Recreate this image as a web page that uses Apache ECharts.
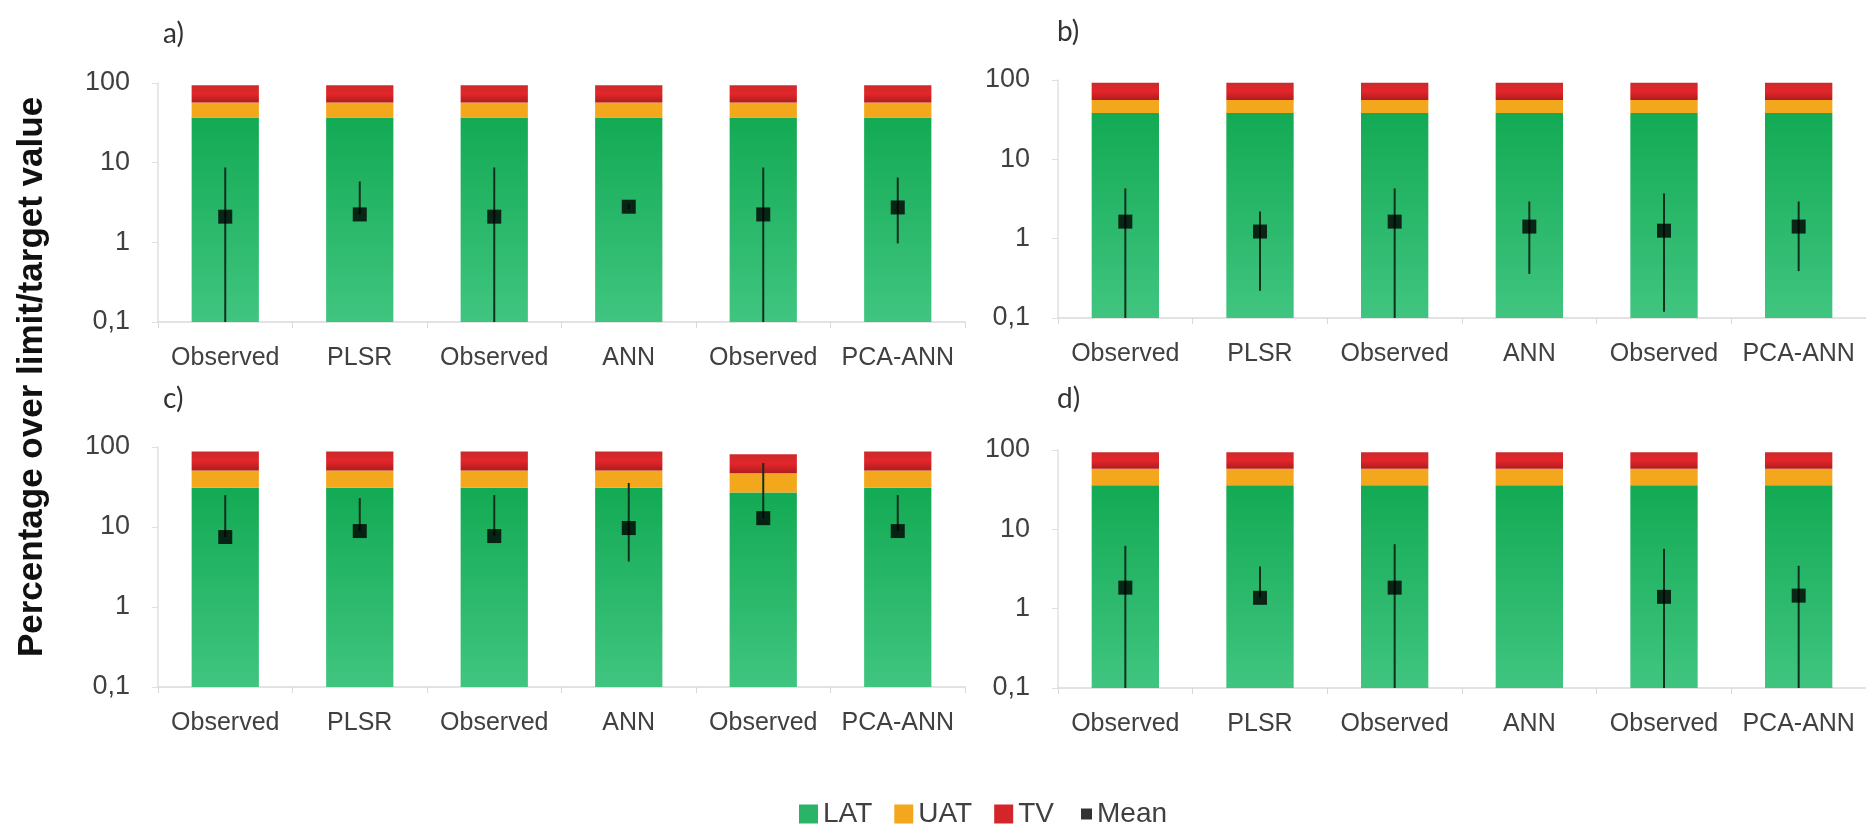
<!DOCTYPE html>
<html>
<head>
<meta charset="utf-8">
<script src="https://cdn.jsdelivr.net/npm/echarts@6/dist/echarts.min.js"></script>
<style>
  html, body { margin: 0; padding: 0; background: #ffffff; }
  #chart { width: 1866px; height: 830px; }
</style>
</head>
<body>
<div id="chart"></div>
<script>
// ---- data ----
const categories = ['Observed', 'PLSR', 'Observed', 'ANN', 'Observed', 'PCA-ANN'];
const panelLabels = ['a)', 'b)', 'c)', 'd)'];
const yAxisTitle = 'Percentage over limit/target value';
const legendNames = ['LAT', 'UAT', 'TV', 'Mean'];

// cumulative tops of the threshold bands (log axis, % of limit)
const latA = [37, 37, 37, 37, 37, 37];
const uatA = [57, 57, 57, 57, 57, 57];
const tvA  = [94, 94, 94, 94, 94, 94];
const meanA = [2.1, 2.24, 2.1, 2.8, 2.24, 2.74];
const lowA  = [0.1, 2.24, 0.1, 2.6, 0.1, 0.97];
const highA = [8.7, 5.8, 8.7, 3.0, 8.7, 6.5];

const latB = [38.5, 38.5, 38.5, 38.5, 38.5, 38.5];
const uatB = [56, 56, 56, 56, 56, 56];
const tvB  = [92, 92, 92, 92, 92, 92];
const meanB = [1.64, 1.23, 1.64, 1.42, 1.26, 1.42];
const lowB  = [0.1, 0.22, 0.1, 0.36, 0.12, 0.39];
const highB = [4.3, 2.2, 4.3, 2.94, 3.7, 2.94];

const latC = [31, 31, 31, 31, 27, 31];
const uatC = [51, 51, 51, 51, 47, 51];
const tvC  = [88, 88, 88, 88, 81, 88];
const meanC = [7.5, 8.9, 7.7, 9.7, 12.9, 8.9];
const lowC  = [7.5, 8.9, 7.7, 3.7, 12.9, 8.9];
const highC = [25, 23, 25, 35.5, 63, 25];

const latD = [36, 36, 36, 36, 36, 36];
const uatD = [58, 58, 58, 58, 58, 58];
const tvD  = [94, 94, 94, 94, 94, 94];
const meanD = [1.84, 1.37, 1.84, null, 1.41, 1.46];
const lowD  = [0.1, 1.37, 0.1, null, 0.1, 0.1];
const highD = [6.2, 3.4, 6.5, null, 5.7, 3.47];

const yMin = 0.1, yMax = 100;

const panels = [
  {lat: latA, uat: uatA, tv: tvA, mean: meanA, low: lowA, high: highA},
  {lat: latB, uat: uatB, tv: tvB, mean: meanB, low: lowB, high: highB},
  {lat: latC, uat: uatC, tv: tvC, mean: meanC, low: lowC, high: highC},
  {lat: latD, uat: uatD, tv: tvD, mean: meanD, low: lowD, high: highD}
];

// ---- layout ----
const grids = [
  {left: 158, top: 83, width: 807, height: 239},
  {left: 1058, top: 80, width: 808, height: 238},
  {left: 158, top: 447, width: 807, height: 240},
  {left: 1058, top: 450, width: 808, height: 238}
];
const labelPos = [[163, 36], [1057, 34], [163, 401], [1057, 401]];

const colLAT = new echarts.graphic.LinearGradient(0, 0, 0, 1, [
  {offset: 0, color: '#13aa54'}, {offset: 1, color: '#40c580'}
]);
const colUAT = '#f3a71d';
const colTV = new echarts.graphic.LinearGradient(0, 0, 0, 1, [
  {offset: 0, color: '#cc2a2b'}, {offset: 0.5, color: '#e3262a'}, {offset: 1, color: '#b01c1e'}
]);

function bandRender(params, api) {
  const x = api.value(0), lo = api.value(1), hi = api.value(2);
  const pTop = api.coord([x, hi]);
  const pBot = api.coord([x, lo]);
  const w = api.size([1, 0])[0] * 0.5;
  return {
    type: 'rect',
    shape: {x: pTop[0] - w / 2, y: pTop[1], width: w, height: pBot[1] - pTop[1]},
    style: api.style()
  };
}
function errRender(params, api) {
  const x = api.value(0), lo = api.value(1), hi = api.value(2);
  const p1 = api.coord([x, hi]);
  const p0 = api.coord([x, lo]);
  return {
    type: 'line',
    shape: {x1: p1[0], y1: p1[1], x2: p0[0], y2: p0[1]},
    style: {stroke: '#10301c', lineWidth: 2}
  };
}

const xAxes = [], yAxes = [], series = [];
panels.forEach((p, k) => {
  xAxes.push({
    type: 'category', gridIndex: k, data: categories,
    axisLine: {lineStyle: {color: '#d9d9d9', width: 1.5}},
    axisTick: {show: true, length: 6, lineStyle: {color: '#d9d9d9'}},
    axisLabel: {interval: 0, fontSize: 25, color: '#404040', margin: 24, fontFamily: 'Liberation Sans, Arial'}
  });
  yAxes.push({
    type: 'log', logBase: 10, gridIndex: k, min: yMin, max: yMax,
    axisLine: {show: true, lineStyle: {color: '#e0e0e0', width: 1.5}},
    axisTick: {show: true, length: 6, lineStyle: {color: '#e0e0e0'}},
    splitLine: {show: false},
    axisLabel: {
      fontSize: 27, color: '#404040', margin: 28, fontFamily: 'Liberation Sans, Arial',
      formatter: v => v < 1 ? String(+v.toFixed(1)).replace('.', ',') : String(Math.round(v))
    }
  });
  const latData = p.lat.map((v, i) => [i, yMin, v]);
  const uatData = p.uat.map((v, i) => [i, p.lat[i], v]);
  const tvData = p.tv.map((v, i) => [i, p.uat[i], v]);
  series.push({name: 'LAT', type: 'custom', xAxisIndex: k, yAxisIndex: k, renderItem: bandRender,
    itemStyle: {color: colLAT}, encode: {x: 0, y: [1, 2]}, data: latData, z: 2, silent: true});
  series.push({name: 'UAT', type: 'custom', xAxisIndex: k, yAxisIndex: k, renderItem: bandRender,
    itemStyle: {color: colUAT}, encode: {x: 0, y: [1, 2]}, data: uatData, z: 2, silent: true});
  series.push({name: 'TV', type: 'custom', xAxisIndex: k, yAxisIndex: k, renderItem: bandRender,
    itemStyle: {color: colTV}, encode: {x: 0, y: [1, 2]}, data: tvData, z: 2, silent: true});
  const errData = [];
  const meanData = [];
  p.mean.forEach((m, i) => {
    if (m == null) return;
    errData.push([i, p.low[i], p.high[i]]);
    meanData.push([i, m]);
  });
  series.push({name: 'err' + k, type: 'custom', xAxisIndex: k, yAxisIndex: k, renderItem: errRender,
    encode: {x: 0, y: [1, 2]}, data: errData, z: 3, silent: true});
  series.push({name: 'Mean', type: 'scatter', xAxisIndex: k, yAxisIndex: k, symbol: 'rect',
    symbolSize: 14, itemStyle: {color: '#000000'}, data: meanData, z: 4, silent: true});
});

const graphics = panelLabels.map((t, k) => ({
  type: 'text', left: labelPos[k][0], top: labelPos[k][1] - 16,
  style: {text: t, font: '28px Lato, "Liberation Sans", Arial', fill: '#333333'}
}));
graphics.push({
  type: 'text', x: 32, y: 377, rotation: Math.PI / 2,
  style: {text: yAxisTitle, font: 'bold 35px "Liberation Sans", Arial', fill: '#111111',
    textAlign: 'center', textVerticalAlign: 'middle'}
});

const chart = echarts.init(document.getElementById('chart'), null, {renderer: 'canvas'});
chart.setOption({
  backgroundColor: '#ffffff',
  animation: false,
  grid: grids,
  xAxis: xAxes,
  yAxis: yAxes,
  legend: [
    {data: [{name: 'LAT', itemStyle: {color: '#2ab468'}}, {name: 'UAT', itemStyle: {color: '#f3a71d'}}, {name: 'TV', itemStyle: {color: '#d4262a'}}],
     left: 794, top: 795, icon: 'rect', itemWidth: 19, itemHeight: 19, itemGap: 22,
     textStyle: {fontSize: 28, color: '#404040', fontFamily: 'Liberation Sans, Arial'}},
    {data: [{name: 'Mean', itemStyle: {color: '#000000'}}],
     left: 1076, top: 795, icon: 'rect', itemWidth: 11, itemHeight: 11,
     textStyle: {fontSize: 28, color: '#404040', fontFamily: 'Liberation Sans, Arial'}}
  ],
  graphic: graphics,
  series: series
});
</script>
</body>
</html>
